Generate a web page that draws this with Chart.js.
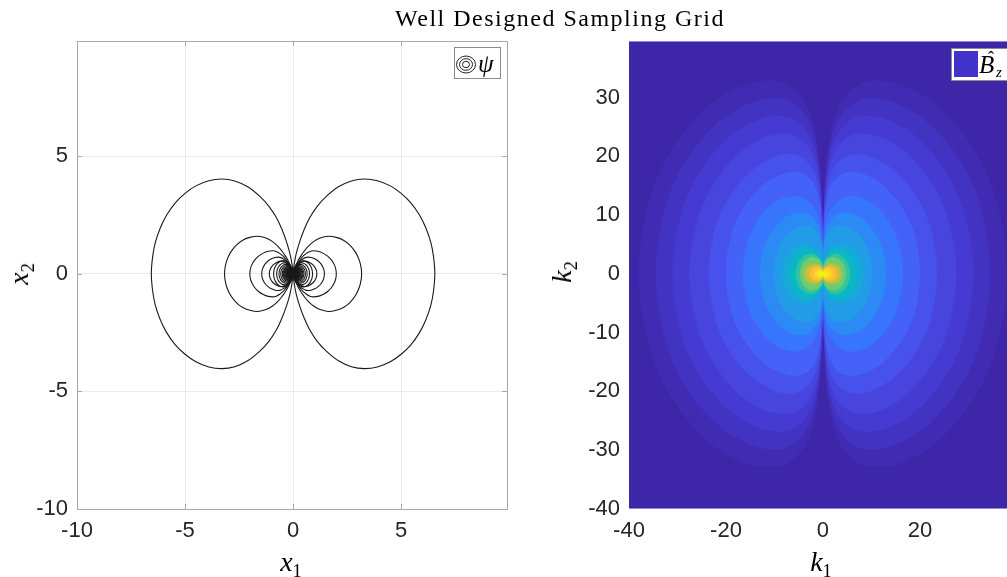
<!DOCTYPE html>
<html>
<head>
<meta charset="utf-8">
<script src="https://cdn.jsdelivr.net/npm/chart.js@4.4.1/dist/chart.umd.min.js"></script>
<style>
html,body{margin:0;padding:0;background:#ffffff;overflow:hidden;}
#fig{position:relative;width:1007px;height:577px;overflow:hidden;background:#fff;}
#c1{position:absolute;left:0;top:0;}
#c2{position:absolute;left:540px;top:0;}
.t{position:absolute;font-family:"Liberation Serif","Times New Roman",serif;color:#000;white-space:nowrap;line-height:1;}
.c{transform:translate(-50%,-50%);}
.r{transform:translate(-50%,-50%) rotate(-90deg);}
.t i{font-style:italic;}
.t sub{font-size:0.66em;vertical-align:-0.32em;line-height:0;}
</style>
</head>
<body>
<div id="fig">
<canvas id="c1" width="540" height="577"></canvas>
<canvas id="c2" width="490" height="577"></canvas>
<div class="t c" style="left:560px;top:18px;font-size:24px;letter-spacing:1.5px;">Well Designed Sampling Grid</div>
<div class="t c" style="left:291px;top:562px;font-size:28px;"><i>x</i><sub>1</sub></div>
<div class="t r" style="left:19px;top:274px;font-size:28px;"><i>x</i><sub>2</sub></div>
<div class="t c" style="left:821px;top:562px;font-size:28px;"><i>k</i><sub>1</sub></div>
<div class="t r" style="left:562px;top:272px;font-size:28px;"><i>k</i><sub>2</sub></div>
</div>
<script>
// ---------------- data ----------------
// left panel: axes
const leftXTicks = [-10, -5, 0, 5];
const leftYTicks = [-10, -5, 0, 5];
const leftRange = [-10, 9.9];
// right panel: axes
const rightXTicks = [-40, -20, 0, 20];
const rightYTicks = [-40, -30, -20, -10, 0, 10, 20, 30];
const rightRange = [-40, 39.6];

// psi contour loops: upper-right quarter (x1>=0, x2>=0), from origin to the x1-axis crossing
const psiLoopA = [[0,0],[0.05,0.4],[0.15,0.88],[0.3,1.35],[0.5,1.85],[0.75,2.35],[1.1,2.85],[1.55,3.3],[2.1,3.7],[2.7,3.95],[3.3,4.03],[3.9,3.96],[4.5,3.74],[5.0,3.42],[5.45,3.02],[5.85,2.5],[6.15,1.94],[6.38,1.32],[6.5,0.72],[6.56,0]];
const psiLoopB = [[0,0],[0.04,0.15],[0.1,0.3],[0.2,0.5],[0.33,0.72],[0.5,0.95],[0.7,1.17],[0.95,1.37],[1.25,1.52],[1.62,1.6],[2.0,1.55],[2.35,1.42],[2.65,1.2],[2.9,0.9],[3.07,0.56],[3.15,0.25],[3.17,0]];
const psiLoopC = [[0,0],[0.03,0.1],[0.1,0.25],[0.17,0.38],[0.25,0.5],[0.35,0.63],[0.47,0.76],[0.62,0.87],[0.78,0.95],[0.93,0.98],[1.15,0.96],[1.38,0.88],[1.6,0.75],[1.78,0.58],[1.92,0.36],[1.98,0.18],[2.0,0]];
// widths of the inner loops: the two larger keep loop C's shape,
// the dense core keeps loop A's shape
const psiMidWidths = [1.45, 1.1];
const psiCoreWidths = [0.9,0.76,0.65,0.57,0.5,0.45,0.41,0.37,0.34,0.31,0.285,0.26,0.24,0.22,0.2,0.18,0.165,0.15,0.135,0.12,0.105,0.09,0.075,0.06];

// |B_z hat| level boundaries: radius (k units) at these polar angles (deg from k1 axis)
const bzAngles = [0, 20, 35, 50, 60, 68, 75, 80, 84, 87, 89, 90];
const bzRadii = [
  [38,37.9,37.6,37.1,36.3,35.3,33.8,31.5,28.1,22.0,11.4,0],
  [34.5,34.4,34.2,33.6,32.9,32.1,30.7,28.6,25.5,20.0,10.4,0],
  [31,30.9,30.7,30.2,29.6,28.8,27.6,25.7,22.9,18.0,9.3,0],
  [27.5,27.4,27.2,26.8,26.3,25.6,24.5,22.8,20.4,16.0,8.3,0],
  [23.5,23.5,23.3,22.9,22.4,21.9,20.9,19.5,17.4,13.6,7.1,0],
  [20,20,19.8,19.5,19.1,18.6,17.8,16.6,14.8,11.6,6.0,0],
  [16.5,16.4,16.2,15.7,15.0,14.2,13.0,11.6,10.2,7.4,3.6,0],
  [13,12.9,12.7,12.4,11.8,11.2,10.3,9.1,8.1,5.9,2.9,0],
  [10.2,10.1,10.0,9.7,9.3,8.8,8.1,7.1,6.3,4.6,2.2,0],
  [8.3,8.1,7.5,6.5,5.6,4.7,3.8,3.1,2.3,1.5,0.7,0],
  [6.8,6.6,6.1,5.3,4.6,3.9,3.1,2.5,1.9,1.2,0.5,0],
  [5.6,5.4,5.0,4.4,3.8,3.2,2.6,2.1,1.6,1.0,0.45,0],
  [4.7,4.6,4.2,3.7,3.1,2.7,2.2,1.7,1.3,0.85,0.38,0],
  [4.0,3.6,2.9,2.2,1.8,1.5,1.16,0.88,0.64,0.4,0.2,0],
  [3.4,3.1,2.45,1.87,1.53,1.26,0.99,0.75,0.54,0.34,0.17,0],
  [2.7,2.43,1.94,1.49,1.22,1.0,0.78,0.59,0.43,0.27,0.14,0],
  [1.9,1.71,1.37,1.05,0.86,0.7,0.55,0.42,0.3,0.19,0.1,0],
  [1.1,0.99,0.79,0.6,0.5,0.41,0.32,0.24,0.18,0.11,0.06,0]
];
// normalised colour value inside each boundary
const bzBandValue = [0.013,0.035,0.055,0.08,0.11,0.145,0.19,0.25,0.31,0.37,0.44,0.52,0.60,0.68,0.76,0.84,0.91,0.97];

// ---------------- style helpers ----------------
const PARULA = [
 [0.00,62,38,168],[0.05,69,56,206],[0.10,72,77,233],[0.15,68,99,250],[0.20,52,122,253],
 [0.25,44,138,245],[0.30,36,153,232],[0.35,26,167,220],[0.40,12,179,208],[0.45,8,187,191],
 [0.50,37,193,168],[0.55,72,199,142],[0.60,110,203,113],[0.65,150,201,88],[0.70,185,195,63],
 [0.75,216,187,48],[0.80,240,184,58],[0.85,254,194,55],[0.90,251,210,42],[0.95,245,230,27],[1.00,249,251,14]];
function parula(t){
  t = Math.max(0, Math.min(1, t));
  for (let i = 1; i < PARULA.length; i++) {
    const a = PARULA[i-1], b = PARULA[i];
    if (t <= b[0]) {
      const f = (t - a[0]) / (b[0] - a[0]);
      const c = [1,2,3].map(k => Math.round(a[k] + f*(b[k]-a[k])));
      return 'rgb(' + c.join(',') + ')';
    }
  }
  return 'rgb(249,251,14)';
}
const TICK_FONT = {family: '"Liberation Sans", Arial, Helvetica, sans-serif', size: 22};

function makeAxis(range, ticksArr, pos, size, pad, gridOn) {
  return {
    type: 'linear', position: pos, min: range[0], max: range[1],
    afterBuildTicks: s => { s.ticks = ticksArr.map(v => ({value: v})); },
    afterFit: s => { if (pos === 'bottom') s.height = size; else s.width = size; },
    ticks: {font: TICK_FONT, color: '#262626', padding: pad, autoSkip: false, maxRotation: 0, minRotation: 0},
    grid: {display: gridOn, color: '#ebebeb', lineWidth: 1, drawTicks: false},
    border: {display: gridOn, color: '#a8a8a8', width: 1}
  };
}

// ---------------- left chart ----------------
function quarterToLoop(q, sx) {
  const up = q.map(([a, b]) => ({x: sx*a, y: b}));
  const down = q.slice(0, -1).reverse().map(([a, b]) => ({x: sx*a, y: -b}));
  return up.concat(down);
}
const widthA = psiLoopA[psiLoopA.length - 1][0];
const widthC = psiLoopC[psiLoopC.length - 1][0];
const psiQuarters = [psiLoopA, psiLoopB, psiLoopC]
  .concat(psiMidWidths.map(w => psiLoopC.map(([a, b]) => [a*w/widthC, b*w/widthC])))
  .concat(psiCoreWidths.map(w => psiLoopA.map(([a, b]) => [a*w/widthA, b*w/widthA])));
const leftDatasets = [];
psiQuarters.forEach(q => {
  [1, -1].forEach(sx => leftDatasets.push({
    data: quarterToLoop(q, sx), showLine: true, fill: false,
    borderColor: '#1a1a1a', borderWidth: 1.1, pointRadius: 0, tension: 0.4
  }));
});

const leftFrame = {
  id: 'leftFrame',
  afterDraw(chart) {
    const {ctx, chartArea: a, scales} = chart;
    ctx.save();
    ctx.strokeStyle = '#a8a8a8'; ctx.lineWidth = 1;
    ctx.beginPath();
    ctx.moveTo(a.left, a.top + 0.5); ctx.lineTo(a.right + 0.5, a.top + 0.5); ctx.lineTo(a.right + 0.5, a.bottom);
    ctx.stroke();
    ctx.beginPath();
    leftXTicks.forEach(v => {
      if (v === leftRange[0]) return;
      const px = Math.round(scales.x.getPixelForValue(v)) + 0.5;
      ctx.moveTo(px, a.bottom); ctx.lineTo(px, a.bottom - 5);
      ctx.moveTo(px, a.top); ctx.lineTo(px, a.top + 5);
    });
    leftYTicks.forEach(v => {
      if (v === leftRange[0]) return;
      const py = Math.round(scales.y.getPixelForValue(v)) + 0.5;
      ctx.moveTo(a.left, py); ctx.lineTo(a.left + 5, py);
      ctx.moveTo(a.right, py); ctx.lineTo(a.right - 5, py);
    });
    ctx.stroke();
    // legend
    ctx.fillStyle = '#ffffff';
    ctx.fillRect(454, 47, 47, 32);
    ctx.strokeStyle = '#8a8a8a';
    ctx.strokeRect(454.5, 47.5, 46, 31);
    ctx.strokeStyle = '#222222';
    [[9.5, 8.5], [6.5, 5.8], [3.5, 3.2]].forEach(([rx, ry]) => {
      ctx.beginPath(); ctx.ellipse(466, 64.5, rx, ry, 0, 0, Math.PI*2); ctx.stroke();
    });
    ctx.fillStyle = '#000';
    ctx.font = 'italic 25px "Liberation Serif", serif';
    ctx.textBaseline = 'alphabetic'; ctx.textAlign = 'left';
    ctx.fillText('ψ', 478, 72);
    ctx.restore();
  }
};

new Chart(document.getElementById('c1'), {
  type: 'scatter',
  data: {datasets: leftDatasets},
  options: {
    responsive: false, animation: false, events: [],
    layout: {padding: {left: 0, top: 41, right: 33, bottom: 0}},
    plugins: {legend: {display: false}, tooltip: {enabled: false}, title: {display: false}},
    scales: {
      x: makeAxis(leftRange, leftXTicks, 'bottom', 68, 9, true),
      y: makeAxis(leftRange, leftYTicks, 'left', 77, 9, true)
    }
  },
  plugins: [leftFrame]
});

// ---------------- right chart ----------------
const rightDatasets = [];
for (let i = bzRadii.length - 1; i >= 0; i--) {
  const col = parula(bzBandValue[i]);
  [1, -1].forEach(sx => {
    const pts = [];
    // upper half: 90 deg -> 0 deg, then lower half 0 -> -90 deg
    for (let j = bzAngles.length - 1; j >= 0; j--) {
      const t = bzAngles[j] * Math.PI / 180, r = bzRadii[i][j];
      pts.push({x: sx * r * Math.cos(t), y: r * Math.sin(t)});
    }
    for (let j = 1; j < bzAngles.length; j++) {
      const t = bzAngles[j] * Math.PI / 180, r = bzRadii[i][j];
      pts.push({x: sx * r * Math.cos(t), y: -r * Math.sin(t)});
    }
    rightDatasets.push({
      data: pts, showLine: true, fill: 'shape',
      backgroundColor: col, borderColor: col, borderWidth: 0.5,
      pointRadius: 0, tension: 0.35
    });
  });
}

const rightFrame = {
  id: 'rightFrame',
  beforeDatasetsDraw(chart) {
    const {ctx, chartArea: a} = chart;
    ctx.save();
    ctx.fillStyle = parula(0);
    ctx.fillRect(a.left, a.top, a.right - a.left, a.bottom - a.top);
    ctx.restore();
  },
  afterDraw(chart) {
    const {ctx, chartArea: a} = chart;
    ctx.save();
    ctx.strokeStyle = 'rgba(150,135,220,1)'; ctx.lineWidth = 1;
    ctx.beginPath();
    ctx.moveTo(a.left, a.top + 0.5); ctx.lineTo(a.right, a.top + 0.5);
    ctx.moveTo(a.left, a.bottom - 0.5); ctx.lineTo(a.right, a.bottom - 0.5);
    ctx.stroke();
    // legend
    const L = 411, T = 48;
    ctx.fillStyle = '#ffffff';
    ctx.fillRect(L, T, 62, 33);
    ctx.strokeStyle = '#8a8a8a';
    ctx.strokeRect(L + 0.5, T + 0.5, 61, 32);
    ctx.fillStyle = 'rgb(66,50,205)';
    ctx.fillRect(L + 3, T + 3, 24, 26);
    ctx.fillStyle = '#000';
    ctx.textBaseline = 'alphabetic'; ctx.textAlign = 'left';
    ctx.font = 'italic 25px "Liberation Serif", serif';
    ctx.fillText('B', L + 28, T + 25);
    ctx.font = '18px "Liberation Serif", serif';
    ctx.fillText('ˆ', L + 37, T + 16);
    ctx.font = 'italic 15px "Liberation Serif", serif';
    ctx.fillText('z', L + 45, T + 29);
    ctx.restore();
  }
};

new Chart(document.getElementById('c2'), {
  type: 'scatter',
  data: {datasets: rightDatasets},
  options: {
    responsive: false, animation: false, events: [],
    layout: {padding: {left: 0, top: 41, right: 15, bottom: 0}},
    plugins: {legend: {display: false}, tooltip: {enabled: false}, title: {display: false}},
    scales: {
      x: makeAxis(rightRange, rightXTicks, 'bottom', 68, 9, false),
      y: makeAxis(rightRange, rightYTicks, 'left', 89, 9, false)
    }
  },
  plugins: [rightFrame]
});
</script>
</body>
</html>
